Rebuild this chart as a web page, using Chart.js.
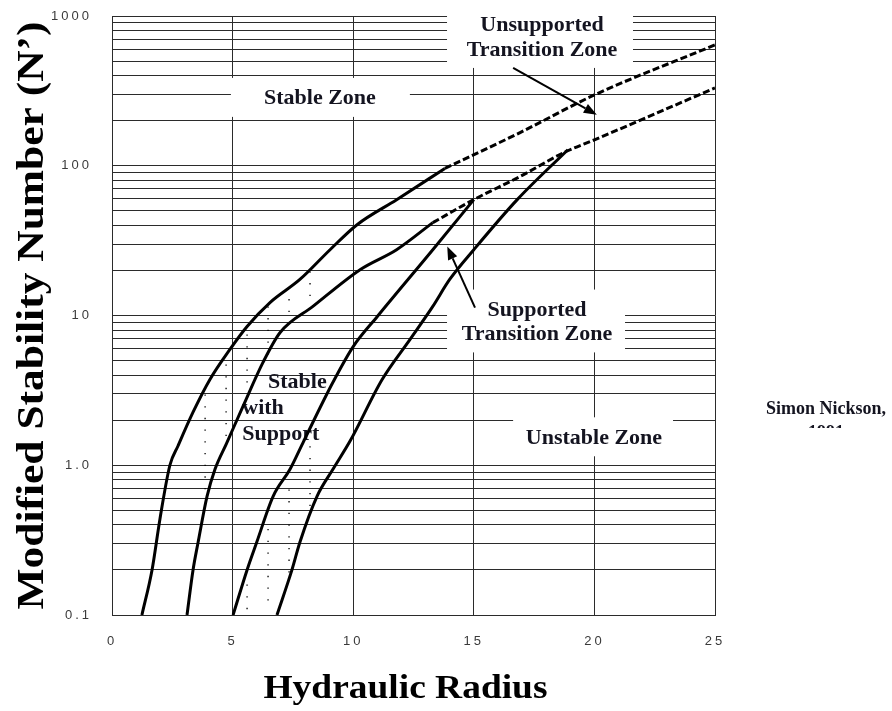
<!DOCTYPE html>
<html><head><meta charset="utf-8">
<script src="https://cdn.jsdelivr.net/npm/chart.js@4.4.1/dist/chart.umd.min.js"></script>
<style>html,body{margin:0;padding:0;background:#fff;}canvas{display:block;}</style>
</head><body>
<canvas id="c" width="892" height="711"></canvas>
<script>
// ---------- data ----------
const xTickValues = [0, 5, 10, 15, 20, 25];
const yMajorTicks = [0.1, 1, 10, 100, 1000];
const yTickLabels = ['0.1', '1.0', '10', '100', '1000'];
const yMinorMultipliers = [2, 3, 4, 5, 6, 7, 8, 9];

const curve1X = [1.24, 1.66, 1.99, 2.40, 2.74, 3.36, 4.06, 4.89, 5.60, 6.55, 7.79, 9.04, 10.16, 11.8, 13.8];
const curve1Y = [0.1, 0.2, 0.44, 1.0, 1.35, 2.26, 3.74, 5.94, 8.45, 12.2, 17.4, 27.5, 40.4, 59.3, 96];
const curve2X = [3.11, 3.36, 3.57, 3.94, 4.27, 4.75, 5.43, 6.26, 6.97, 8.33, 10.3, 11.8, 13.3];
const curve2Y = [0.1, 0.2, 0.306, 0.62, 0.94, 1.4, 2.47, 4.86, 7.7, 11.5, 20.3, 27.5, 41.7];
const curve3X = [5.02, 5.6, 6.0, 6.68, 7.38, 7.95, 9.16, 10.0, 11.0, 13.3, 15.0];
const curve3Y = [0.1, 0.2, 0.306, 0.62, 0.94, 1.45, 3.58, 6.2, 9.85, 27.5, 59.4];
const curve4X = [6.84, 7.46, 7.79, 8.5, 9.16, 9.87, 11.2, 12.35, 13.3, 14.0, 15.0, 16.8, 18.9];
const curve4Y = [0.1, 0.2, 0.306, 0.62, 0.94, 1.45, 3.74, 6.9, 11.5, 17.4, 27.5, 59.4, 128];
const unsupportedDashX = [13.8, 16.9, 20, 25];
const unsupportedDashY = [96, 166, 297, 641];
const supportedDashX = [13.3, 15.0, 16.9, 18.8, 20, 25];
const supportedDashY = [41.7, 59.4, 84.5, 124, 149, 331];
// dotted guide columns: x, top y, bottom y
const dottedAX = [3.86, 4.73, 5.6, 6.47, 7.34, 8.21];
const dottedATop = [2.97, 4.71, 7.47, 11.5, 15.4, 19.7];
const dottedABottom = [0.69, 1.56, 3.57, 5.5, 8.7, 11.5];
const dottedBX = [5.6, 6.47, 7.34, 8.21];
const dottedBTop = [0.16, 0.375, 0.69, 1.34];
const dottedBBottom = [0.105, 0.122, 0.19, 0.525];

const zoneLabels = ['Stable Zone', 'Unsupported', 'Transition Zone', 'Supported', 'Transition Zone', 'Unstable Zone'];
const supportLabels = ['Stable', 'with', 'Support'];
const creditLines = ['Simon Nickson,', '1991'];
const xTitle = 'Hydraulic Radius';
const yTitle = 'Modified Stability Number (N\u2019)';

// ---------- helpers ----------
const pts = (xs, ys) => xs.map((x, i) => ({x, y: ys[i]}));
const columns = (xs, tops, bottoms) => {
  const out = [];
  xs.forEach((x, i) => { out.push({x, y: tops[i]}, {x, y: bottoms[i]}, {x, y: null}); });
  return out;
};
const yAllTicks = [];
yMajorTicks.forEach((m, i) => {
  yAllTicks.push(m);
  if (i < yMajorTicks.length - 1) yMinorMultipliers.forEach(k => yAllTicks.push(+(m * k).toPrecision(3)));
});
const yLabelFor = v => {
  const i = yMajorTicks.findIndex(m => Math.abs(Math.log10(m) - Math.log10(v)) < 1e-9);
  return i >= 0 ? yTickLabels[i] : '';
};

// ---------- annotation layout (data coordinates) ----------
const boxes = [
  {x0: 4.93, x1: 12.35, y0: 386, y1: 212},
  {x0: 13.89, x1: 21.6, y0: 1250, y1: 450},
  {x0: 13.89, x1: 21.27, y0: 14.9, y1: 5.67},
  {x0: 16.63, x1: 23.26, y0: 2.09, y1: 1.148}
];
const zonePos = [
  {x: 8.62, y: 280}, {x: 17.83, y: 871}, {x: 17.83, y: 593},
  {x: 17.62, y: 10.8}, {x: 17.62, y: 7.47}, {x: 19.98, y: 1.51}
];
const supportPos = [{x: 6.47, y: 3.58}, {x: 5.40, y: 2.40}, {x: 5.40, y: 1.61}];
const arrows = [
  {from: {x: 16.63, y: 450}, to: {x: 20.1, y: 219}},
  {from: {x: 15.05, y: 11.3}, to: {x: 13.9, y: 28.9}}
];
const creditPos = [{x: 29.6, y: 2.36}, {x: 29.6, y: 1.64}];

const INK = '#141420';

const annot = {
  id: 'annot',
  beforeDatasetsDraw(chart) {
    const {ctx, scales: {x, y}} = chart;
    ctx.save();
    ctx.fillStyle = '#fff';
    boxes.forEach(b => {
      const X0 = x.getPixelForValue(b.x0), X1 = x.getPixelForValue(b.x1);
      const Y0 = y.getPixelForValue(b.y0), Y1 = y.getPixelForValue(b.y1);
      ctx.fillRect(X0, Y0, X1 - X0, Y1 - Y0);
    });
    ctx.fillStyle = INK;
    ctx.font = 'bold 22px "Liberation Serif"';
    ctx.textAlign = 'center';
    ctx.textBaseline = 'middle';
    zoneLabels.forEach((t, i) => ctx.fillText(t, x.getPixelForValue(zonePos[i].x), y.getPixelForValue(zonePos[i].y)));
    ctx.textAlign = 'left';
    supportLabels.forEach((t, i) => ctx.fillText(t, x.getPixelForValue(supportPos[i].x), y.getPixelForValue(supportPos[i].y)));
    ctx.restore();
  },
  afterDatasetsDraw(chart) {
    chart.ctx.letterSpacing = '3px';
  },
  afterDraw(chart) {
    const {ctx, scales: {x, y}, chartArea} = chart;
    ctx.letterSpacing = '0px';
    ctx.save();
    // arrows
    ctx.strokeStyle = '#000'; ctx.fillStyle = '#000'; ctx.lineWidth = 2;
    arrows.forEach(a => {
      const x0 = x.getPixelForValue(a.from.x), y0 = y.getPixelForValue(a.from.y);
      const x1 = x.getPixelForValue(a.to.x), y1 = y.getPixelForValue(a.to.y);
      const ang = Math.atan2(y1 - y0, x1 - x0);
      const L = 13, W = 5;
      const bx = x1 - L * Math.cos(ang), by = y1 - L * Math.sin(ang);
      ctx.beginPath(); ctx.moveTo(x0, y0); ctx.lineTo(bx, by); ctx.stroke();
      ctx.beginPath();
      ctx.moveTo(x1, y1);
      ctx.lineTo(bx + W * Math.sin(ang), by - W * Math.cos(ang));
      ctx.lineTo(bx - W * Math.sin(ang), by + W * Math.cos(ang));
      ctx.closePath(); ctx.fill();
    });
    // credit (second line cut off as in the original)
    ctx.fillStyle = INK;
    ctx.font = 'bold 18px "Liberation Serif"';
    ctx.textAlign = 'center'; ctx.textBaseline = 'middle';
    const cx = x.getPixelForValue(creditPos[0].x);
    ctx.fillText(creditLines[0], cx, y.getPixelForValue(creditPos[0].y));
    const l2 = y.getPixelForValue(creditPos[1].y);
    ctx.save();
    ctx.beginPath(); ctx.rect(cx - 60, l2 - 20, 120, 15); ctx.clip();
    ctx.fillText(creditLines[1], cx, l2);
    ctx.restore();
    // axis titles (stretched like the original)
    ctx.fillStyle = '#000';
    ctx.font = 'bold 37px "Liberation Serif"';
    ctx.save();
    ctx.translate(33, (chartArea.top + chartArea.bottom) / 2);
    ctx.rotate(-Math.PI / 2);
    let w = ctx.measureText(yTitle).width;
    ctx.scale(588 / w, 1);
    ctx.fillText(yTitle, 0, 0);
    ctx.restore();
    ctx.save();
    ctx.font = 'bold 33px "Liberation Serif"';
    ctx.translate((chartArea.left + chartArea.right) / 2 - 8, 689);
    w = ctx.measureText(xTitle).width;
    ctx.scale(284 / w, 1);
    ctx.fillText(xTitle, 0, 0);
    ctx.restore();
    ctx.restore();
  }
};

const solid = (data) => ({data, borderColor: '#000', borderWidth: 3, showLine: true, pointRadius: 0, cubicInterpolationMode: 'monotone', fill: false});
const dashed = (data) => ({data, borderColor: '#000', borderWidth: 3, borderDash: [7, 3], showLine: true, pointRadius: 0, cubicInterpolationMode: 'monotone', fill: false});
const dotted = (data) => ({data, borderColor: '#000', borderWidth: 1.3, borderDash: [1.3, 10.4], showLine: true, pointRadius: 0, spanGaps: false, fill: false});

const zeroPad = s => { s.paddingTop = 0; s.paddingBottom = 0; s.paddingLeft = 0; s.paddingRight = 0; };

new Chart(document.getElementById('c'), {
  type: 'scatter',
  data: {
    datasets: [
      solid(pts(curve1X, curve1Y)),
      solid(pts(curve2X, curve2Y)),
      solid(pts(curve3X, curve3Y)),
      solid(pts(curve4X, curve4Y)),
      dashed(pts(unsupportedDashX, unsupportedDashY)),
      dashed(pts(supportedDashX, supportedDashY)),
      dotted(columns(dottedAX, dottedATop, dottedABottom)),
      dotted(columns(dottedBX, dottedBTop, dottedBBottom))
    ]
  },
  options: {
    responsive: false, animation: false, devicePixelRatio: 1,
    layout: {padding: {top: 16, right: 177, left: 0, bottom: 0}},
    plugins: {legend: {display: false}, tooltip: {enabled: false}},
    scales: {
      x: {
        type: 'linear', min: 0, max: 25,
        afterFit(s) { s.height = 96; zeroPad(s); },
        afterBuildTicks(s) { s.ticks = xTickValues.map(v => ({value: v})); },
        grid: {color: '#2b2b2b', lineWidth: 1, drawTicks: false},
        border: {color: '#2b2b2b', width: 1},
        ticks: {padding: 19, z: 1, color: '#3a3a3a', font: {family: 'Liberation Sans', size: 13}, autoSkip: false, maxRotation: 0, callback: v => String(v)}
      },
      y: {
        type: 'logarithmic', min: 0.1, max: 1000,
        afterFit(s) { s.width = 112; zeroPad(s); },
        afterBuildTicks(s) { s.ticks = yAllTicks.map(v => ({value: v})); },
        grid: {color: '#2b2b2b', lineWidth: 1, drawTicks: false},
        border: {color: '#2b2b2b', width: 1},
        ticks: {padding: 20, z: 1, color: '#3a3a3a', font: {family: 'Liberation Sans', size: 13}, autoSkip: false, callback: v => yLabelFor(v)}
      }
    }
  },
  plugins: [annot]
});
</script>
</body></html>
